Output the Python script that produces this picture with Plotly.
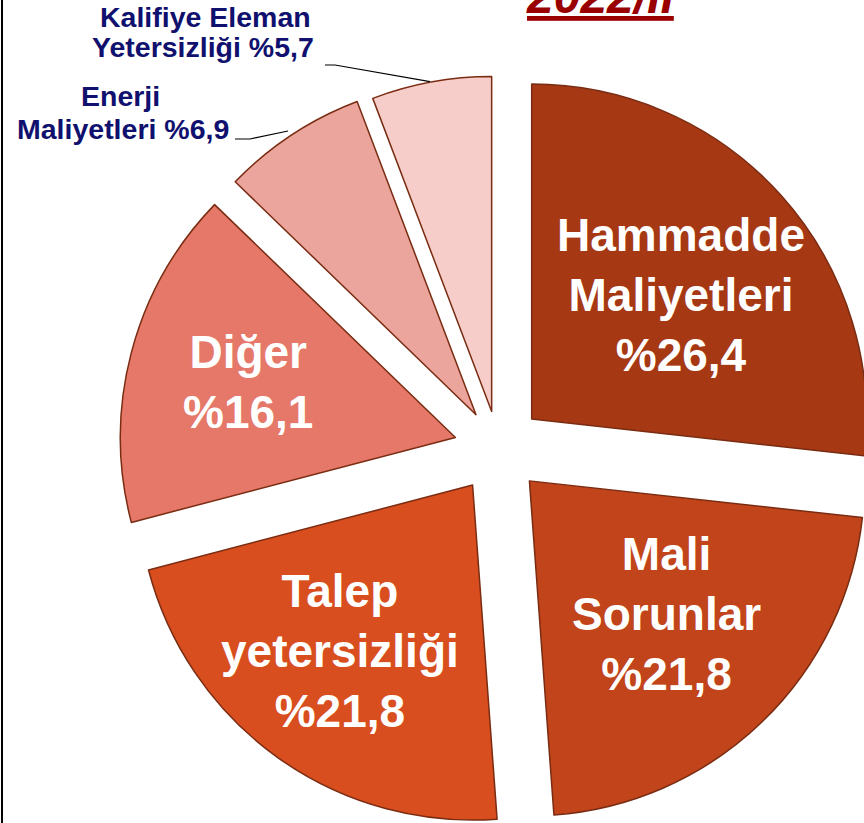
import plotly.graph_objects as go

# ---- data ----
labels = ["Hammadde Maliyetleri", "Mali Sorunlar", "Talep yetersizliği",
          "Diğer", "Enerji Maliyetleri", "Kalifiye Eleman Yetersizliği"]
values = [26.4, 21.8, 21.8, 16.1, 6.9, 5.7]
label_lines = ["Hammadde<br>Maliyetleri", "Mali<br>Sorunlar", "Talep<br>yetersizliği",
               "Diğer", "Enerji<br>Maliyetleri", "Kalifiye Eleman<br>Yetersizliği"]
title_text = "2022/II"

# ---- style ----
colors = ["#A63814", "#C1441A", "#D84E1E", "#E57868", "#EBA59C", "#F6CDC8"]
pulls = [0.133, 0.133, 0.133, 0.133, 0.122, 0.113]

W, H = 900, 850          # figure larger than the window: the pie is cropped
OX, OY = 0, 0            # page offset of the figure (body margin removed below)
CX, CY = 498.5, 448.8    # pie centre (page px)
R = 335                  # pie radius (px)
half = R * (1 + max(pulls))


def fx(px):
    return (px - OX) / W


def fy(py):
    return 1 - (py - OY) / H


def pct(v):
    return "%" + f"{v:.1f}".replace(".", ",")


fig = go.Figure(go.Pie(
    labels=labels, values=values, sort=False, direction="clockwise", rotation=0,
    pull=pulls, textinfo="none", showlegend=False, hoverinfo="label+value",
    marker=dict(colors=colors, line=dict(color="#7a2c12", width=1.5)),
    domain=dict(x=[fx(CX - half), fx(CX + half)], y=[fy(CY + half), fy(CY - half)]),
))

FONT = "Liberation Sans, Arial, sans-serif"

# inside labels (white) for the four large slices
inside_pos = {0: (681, 295), 1: (666, 614), 2: (340, 651), 3: (248, 382)}
for i, (x, y) in inside_pos.items():
    fig.add_annotation(x=fx(x), y=fy(y), xref="paper", yref="paper",
                       text=f"<b>{label_lines[i]}<br>{pct(values[i])}</b>",
                       showarrow=False, xanchor="center", yanchor="middle",
                       font=dict(family=FONT, size=46, color="white"))

# outside labels (navy) for the two small slices, one annotation per line
outside_pos = {4: [(120, 96), (123, 129)], 5: [(205, 17), (203, 47)]}
for i, centres in outside_pos.items():
    lines = label_lines[i].split("<br>")
    lines[-1] = f"{lines[-1]} {pct(values[i])}"
    for line, (x, y) in zip(lines, centres):
        fig.add_annotation(x=fx(x), y=fy(y), xref="paper", yref="paper",
                           text=f"<b>{line}</b>", showarrow=False,
                           xanchor="center", yanchor="middle",
                           font=dict(family=FONT, size=28.5, color="#10106E"))

# leader lines
def path(pts):
    return "M " + " L ".join(f"{fx(x)},{fy(y)}" for x, y in pts)

for pts in ([(325, 65), (335, 65), (430, 81.7)], [(235, 139), (250, 139), (288, 131)]):
    fig.add_shape(type="path", path=path(pts), xref="paper", yref="paper",
                  line=dict(color="black", width=1.2))

# left frame line
fig.add_shape(type="line", x0=fx(2), x1=fx(2), y0=0, y1=1, xref="paper", yref="paper",
              line=dict(color="black", width=2))

# cropped title (cut at the top edge, as in the reference)
fig.add_annotation(x=fx(600), y=fy(-4), xref="paper", yref="paper",
                   text=f"<b><i><u>{title_text}</u></i></b>", showarrow=False,
                   xanchor="center", yanchor="middle",
                   font=dict(family=FONT, size=48, color="#990000"))

fig.update_layout(width=W, height=H, autosize=False,
                  margin=dict(l=0, r=0, t=0, b=0),
                  paper_bgcolor="white", plot_bgcolor="white")

fig.write_html("out.html", config={"displayModeBar": False},
               post_script="document.body.style.margin='0';"
                           "document.body.style.overflow='hidden';")
